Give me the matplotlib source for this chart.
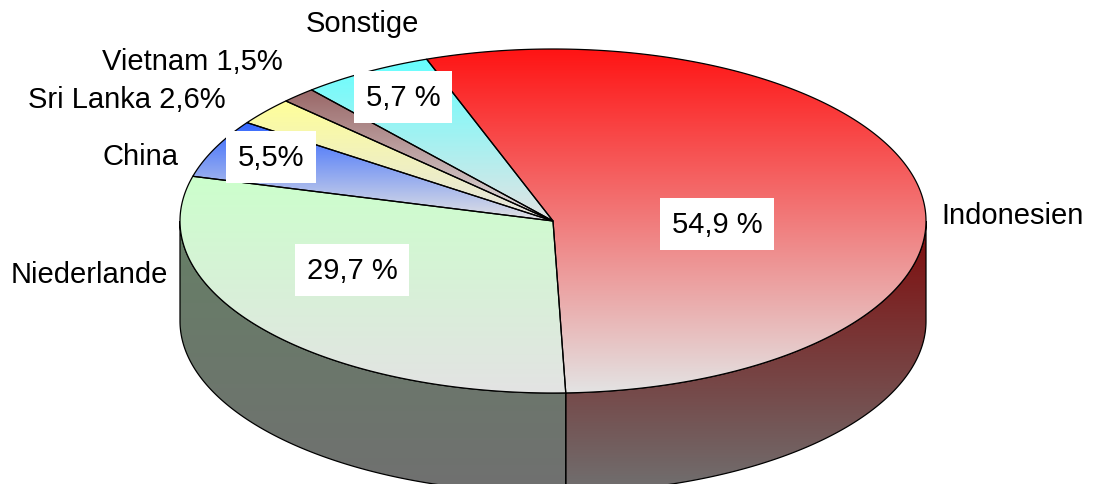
import numpy as np
import matplotlib
matplotlib.use('Agg')
import matplotlib.pyplot as plt
from matplotlib.patches import Polygon
from matplotlib.colors import to_rgb

plt.rcParams['font.family'] = ['Liberation Sans', 'DejaVu Sans']

# Data (clockwise from the top)
countries = ['Indonesien', 'Niederlande', 'China', 'Sri Lanka', 'Vietnam', 'Sonstige']
shares = [54.9, 29.7, 5.5, 2.6, 1.5, 5.7]
inner_labels = ['54,9 %', '29,7 %', '5,5%', '', '', '5,7 %']
outer_labels = ['Indonesien', 'Niederlande', 'China', 'Sri Lanka 2,6%', 'Vietnam 1,5%', 'Sonstige']
top_colors = ['#ff1414', '#ccffcc', '#3366ff', '#ffff99', '#996666', '#66ffff']

# layout (pixel coordinates)
W, H = 1096, 485
CX, CY = 553, 222
RX, RY = 373, 172
DEPTH = 100
START = 109.8
FADE_TOP = '#e3e3e3'
FADE_SIDE = '#707070'
inner_pos = [(717, 225), (352, 271), (271, 158), None, None, (403, 98)]
outer_pos = [(1013, 216), (89, 275), (141, 157), (127, 100), (192, 62), (362, 24)]

fig = plt.figure(figsize=(W / 100, H / 100), dpi=100)
ax = fig.add_axes([0, 0, 1, 1])
ax.set_xlim(0, W)
ax.set_ylim(H, 0)
ax.axis('off')


def ell(t, dy=0):
    t = np.radians(t)
    return CX + RX * np.cos(t), CY - RY * np.sin(t) + dy


def gradient_fill(verts, c1, c2, z):
    patch = Polygon(verts, closed=True, facecolor='none', edgecolor='none')
    ax.add_patch(patch)
    y0, y1 = verts[:, 1].min(), verts[:, 1].max()
    x0, x1 = verts[:, 0].min(), verts[:, 0].max()
    f = np.linspace(0, 1, 256)[:, None]
    img = (1 - f) * np.array(to_rgb(c1)) + f * np.array(to_rgb(c2))
    img = img[:, None, :].repeat(2, axis=1)
    im = ax.imshow(img, extent=(x0, x1, y1, y0), origin='upper',
                   aspect='auto', zorder=z, interpolation='bilinear')
    im.set_clip_path(patch)
    ax.add_patch(Polygon(verts, closed=True, facecolor='none',
                         edgecolor='black', lw=0.9, zorder=z + 0.5))


fracs = np.array(shares) / sum(shares)
angles = START - np.r_[0, np.cumsum(fracs)] * 360
darken = lambda c: tuple(0.5 * v for v in to_rgb(c))

# side walls (front half only)
for i in range(len(shares)):
    a_hi, a_lo = angles[i], angles[i + 1]
    lo = max(min(a_hi, a_lo), -180)
    hi = min(max(a_hi, a_lo), 0)
    if hi <= lo:
        continue
    t = np.linspace(lo, hi, 200)
    xt, yt = ell(t)
    xb, yb = ell(t[::-1], DEPTH)
    verts = np.column_stack([np.r_[xt, xb], np.r_[yt, yb]])
    gradient_fill(verts, darken(top_colors[i]), FADE_SIDE, 1)

# top faces
for i in range(len(shares)):
    t = np.linspace(angles[i], angles[i + 1], 300)
    x, y = ell(t)
    verts = np.column_stack([np.r_[CX, x], np.r_[CY, y]])
    gradient_fill(verts, top_colors[i], FADE_TOP, 3)

for i in range(len(shares)):
    if inner_pos[i] is not None:
        ax.text(*inner_pos[i], inner_labels[i], ha='center', va='center', fontsize=21,
                zorder=6, bbox=dict(boxstyle='square,pad=0.4', fc='white', ec='none'))
    ax.text(*outer_pos[i], outer_labels[i], ha='center', va='center', fontsize=21, zorder=6)

fig.savefig('out.png', dpi=100)
